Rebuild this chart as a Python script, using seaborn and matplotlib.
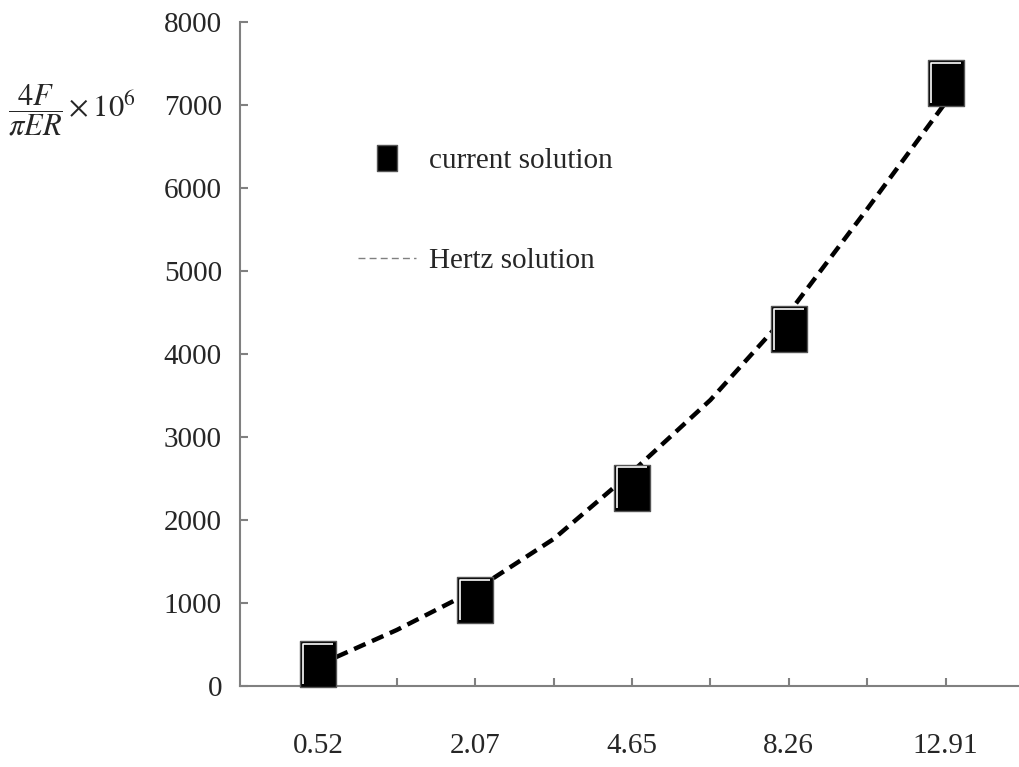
import numpy as np
import pandas as pd
import seaborn as sns
import matplotlib.pyplot as plt
from matplotlib.path import Path
from matplotlib.lines import Line2D

# values
categories = ['0.52', '2.07', '4.65', '8.26', '12.91']
current_solution = [265, 1036, 2386, 4300, 7265]
# Hertz curve is drawn at half-category steps
hertz_steps = [0, 0.5, 1, 1.5, 2, 2.5, 3, 3.5, 4]
hertz_solution = [253, 675, 1157, 1771, 2578, 3446, 4494, 5747, 7030]
y_ticks = [0, 1000, 2000, 3000, 4000, 5000, 6000, 7000, 8000]

cur = pd.DataFrame({'pos': np.arange(len(categories)), 'value': current_solution})
hertz = pd.DataFrame({'pos': hertz_steps, 'value': hertz_solution})

sns.set_style('white')
plt.rcParams['font.family'] = ['Liberation Serif', 'DejaVu Serif']
plt.rcParams['mathtext.fontset'] = 'stix'

gray = '#808080'

# tall rectangle marker and white highlight (left + top edge)
rect = Path([(-18, -23.5), (-18, 23.5), (18, 23.5), (18, -23.5), (-18, -23.5)],
            [Path.MOVETO, Path.LINETO, Path.LINETO, Path.LINETO, Path.CLOSEPOLY])
shine = Path([(-15, -20.5), (-15, 20.5), (15, 20.5)],
             [Path.MOVETO, Path.LINETO, Path.LINETO])

fig = plt.figure(figsize=(10.19, 7.67), dpi=100)
ax = fig.add_axes([240/1019, 81/767, 784/1019, 664/767])

sns.lineplot(data=hertz, x='pos', y='value', ax=ax, color='black', lw=3.2,
             linestyle=(0, (2.8, 1.6)), zorder=2, legend=False)
sns.scatterplot(data=cur, x='pos', y='value', ax=ax, marker=rect, s=1145,
                color='black', edgecolor='#555555', linewidth=1.0, zorder=3,
                clip_on=False, legend=False)
ax.scatter(cur['pos'], cur['value'], marker=shine, s=870, facecolors='none',
           edgecolors='white', linewidths=1.2, zorder=4, clip_on=False)

ax.set_xlim(-0.5, 4.5)
ax.set_ylim(0, 8000)
ax.set_xticks(np.arange(len(categories)))
ax.set_xticklabels(categories)
ax.set_xticks(np.arange(0.5, 4, 1), minor=True)
ax.set_yticks(y_ticks)
ax.set_xlabel('')
ax.set_ylabel('')

for s in ['top', 'right']:
    ax.spines[s].set_visible(False)
for s in ['left', 'bottom']:
    ax.spines[s].set_color(gray)
    ax.spines[s].set_linewidth(1.5)

ax.tick_params(axis='x', which='both', bottom=True, direction='in', length=6,
               width=1.5, color=gray, pad=34, labelsize=21)
ax.tick_params(axis='y', left=True, direction='in', length=6, width=1.5,
               color=gray, pad=13, labelsize=21)

handles = [Line2D([], [], marker=rect, ms=19, color='black', mec='#555555',
                  mew=1, ls='none'),
           Line2D([], [], color=gray, lw=1, ls=(0, (5, 3)))]
ax.legend(handles, ['current solution', 'Hertz solution'], loc='upper left',
          bbox_to_anchor=(358/1019, 1 - 148/767), bbox_transform=fig.transFigure,
          frameon=False, fontsize=21, labelspacing=2.5, handlelength=2.0,
          handletextpad=0.45, borderpad=0, borderaxespad=0)

fig.text(8/1019, 1 - 110/767, r'$\dfrac{4F}{\pi ER}\times10^{6}$',
         fontsize=22, va='center', ha='left')

fig.savefig('out.png', dpi=100)
